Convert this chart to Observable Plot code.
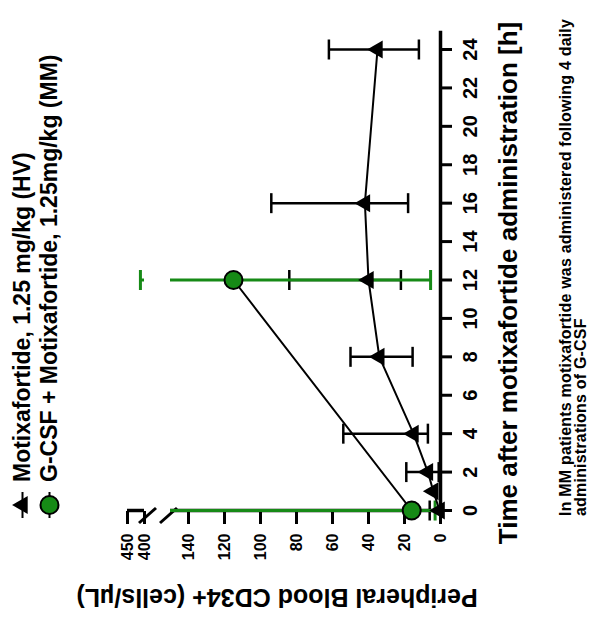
<!DOCTYPE html>
<html>
<head>
<meta charset="utf-8">
<script src="https://cdn.jsdelivr.net/npm/d3@7"></script>
<script src="https://cdn.jsdelivr.net/npm/@observablehq/plot@0.6"></script>
<style>
  html, body { margin: 0; padding: 0; background: #fff; }
  body { width: 595px; height: 620px; overflow: hidden; position: relative; font-family: "Liberation Sans", Arial, sans-serif; color: #000; }
  #rot { position: absolute; left: 0; top: 0; width: 620px; height: 595px; transform-origin: 0 0; transform: translate(0px, 620px) rotate(-90deg); }
  #rot > svg { position: absolute; left: 0; top: 0; }
  .abs { position: absolute; white-space: nowrap; }
  .leg { display: flex; align-items: center; height: 27px; font-size: 23px; font-weight: bold; }
  .leg svg { flex: none; }
  .leg span { margin-left: 9px; }
</style>
</head>
<body>
<div id="rot"></div>
<script>
// ---- data ----
const timeTicks = [0, 2, 4, 6, 8, 10, 12, 14, 16, 18, 20, 22, 24];
const valueTicks = [0, 20, 40, 60, 80, 100, 120, 140, 400, 450];
const valueBreak = [150, 400];   // broken value axis: gap between these two values
const valueTop = 450;
const timeAxisEnd = 25;

const seriesNames = ["Motixafortide, 1.25 mg/kg (HV)", "G-CSF + Motixafortide, 1.25mg/kg (MM)"];

// HV (triangles)
const hvTime  = [0,   1, 2, 4,  8,    12, 16, 24];
const hvMean  = [0.5, 4, 7, 15, 34,   40, 42, 35];
const hvLower = [0.5, 4, 1, 7,  15.5, 22, 18, 12];
const hvUpper = [6,   4, 19, 54, 50,  84, 94, 62];

// MM (circles)
const mmTime  = [0, 12];
const mmMean  = [16, 115];
const mmLower = [3, 5.5];
const mmUpper = [150, 412];
const mmUpperCap = [false, true];

const footnote = ["In MM patients motixafortide was administered following 4 daily", "administrations of G-CSF"];
const xTitle = "Time after motixafortide administration [h]";
const yTitle = "Peripheral Blood CD34+ (cells/µL)";

// ---- styles ----
const GREEN = "#168a16";
const triR = 6.7, circR = 9;

const hv = hvTime.map((t, i) => ({time: t, mean: hvMean[i], lower: hvLower[i], upper: hvUpper[i], cap: true}));
const mm = mmTime.map((t, i) => ({time: t, mean: mmMean[i], lower: mmLower[i], upper: mmUpper[i], cap: mmUpperCap[i]}));

// split error bars at the axis break
function segments(rows) {
  const out = [];
  for (const r of rows) {
    const lo = r.lower, hi = r.upper;
    if (lo < valueBreak[0]) out.push({time: r.time, y1: lo, y2: Math.min(hi, valueBreak[0])});
    if (hi > valueBreak[1]) out.push({time: r.time, y1: Math.max(lo, valueBreak[1]), y2: hi});
  }
  return out;
}
function caps(rows) {
  const out = [];
  for (const r of rows) {
    if (r.lower < r.mean) out.push({time: r.time, v: r.lower});
    if (r.upper > r.mean && r.cap) out.push({time: r.time, v: r.upper});
  }
  return out;
}
const capSymbol = { draw(ctx, size) { const r = Math.sqrt(size / Math.PI); ctx.moveTo(-r, 0); ctx.lineTo(r, 0); } };

const valueAxisSegments = [{y1: 0, y2: valueBreak[0]}, {y1: valueBreak[1], y2: valueTop}];

function breakMarks(index, scales) {
  const g = d3.create("svg:g").attr("stroke", "black").attr("stroke-width", 3);
  const x0 = scales.x(0);
  const c = [scales.y(valueBreak[1]) + 3, scales.y(valueBreak[0]) - 2];
  for (const cy of c) {
    g.append("line").attr("x1", x0 - 12).attr("y1", cy - 8).attr("x2", x0 + 3).attr("y2", cy + 9);
  }
  return g.node();
}

const W = 620, H = 595;
const plot = Plot.plot({
  width: W, height: H,
  marginLeft: 109, marginRight: 50, marginTop: 127, marginBottom: 155,
  style: {fontFamily: "'Liberation Sans', Arial, sans-serif", color: "black", background: "transparent", overflow: "visible"},
  x: {type: "linear", domain: [0, 24]},
  y: {type: "linear", domain: [0, valueBreak[0], valueBreak[1], valueTop], range: [440, 170, 144, 127]},
  marks: [
    Plot.axisX({ticks: timeTicks, tickSize: 12, tickPadding: 10, strokeWidth: 3, fontSize: 20, fontWeight: "bold", label: null, tickFormat: d => String(d)}),
    Plot.axisY({ticks: valueTicks, tickSize: 13, tickPadding: 10, strokeWidth: 3, fontSize: 16, fontWeight: "bold", label: null, tickFormat: d => String(d)}),
    Plot.ruleY([0], {x1: 0, x2: timeAxisEnd, strokeWidth: 3.5}),
    Plot.ruleX(valueAxisSegments, {x: 0, y1: "y1", y2: "y2", strokeWidth: 3.5}),
    breakMarks,
    // HV error bars
    Plot.ruleX(segments(hv), {x: "time", y1: "y1", y2: "y2", stroke: "black", strokeWidth: 2.5}),
    Plot.dot(caps(hv), {x: "time", y: "v", symbol: capSymbol, r: 10, fill: "none", stroke: "black", strokeWidth: 2.5}),
    // MM error bars
    Plot.ruleX(segments(mm), {x: "time", y1: "y1", y2: "y2", stroke: GREEN, strokeWidth: 3}),
    Plot.dot(caps(mm), {x: "time", y: "v", symbol: capSymbol, r: 10, fill: "none", stroke: GREEN, strokeWidth: 3}),
    // lines
    Plot.line(hv, {x: "time", y: "mean", stroke: "black", strokeWidth: 2}),
    Plot.line(mm, {x: "time", y: "mean", stroke: "black", strokeWidth: 2}),
    // markers
    Plot.dot(hv, {x: "time", y: "mean", symbol: "triangle", r: triR, fill: "black", stroke: "none"}),
    Plot.dot(mm, {x: "time", y: "mean", r: circR, fill: GREEN, stroke: "black", strokeWidth: 2})
  ]
});

const rot = document.getElementById("rot");
rot.appendChild(plot);

// legend
function legendRow(i, top) {
  const row = document.createElement("div");
  row.className = "abs leg";
  row.style.left = "101px";
  row.style.top = top + "px";
  const svg = d3.create("svg").attr("width", 28).attr("height", 27);
  const g = svg.append("g").attr("transform", "translate(14,13.5)");
  g.append("line").attr("x1", -13).attr("x2", 13).attr("stroke", "black").attr("stroke-width", 2);
  if (i === 0) {
    g.append("path").attr("d", d3.symbol(d3.symbolTriangle, Math.PI * triR * triR)()).attr("fill", "black");
  } else {
    g.append("circle").attr("r", circR).attr("fill", GREEN).attr("stroke", "black").attr("stroke-width", 2);
  }
  row.appendChild(svg.node());
  const s = document.createElement("span");
  s.textContent = seriesNames[i];
  row.appendChild(s);
  rot.appendChild(row);
}
legendRow(0, 9);
legendRow(1, 36);

// x title
const xt = document.createElement("div");
xt.className = "abs";
Object.assign(xt.style, {left: (337 - 310) + "px", width: "620px", top: "493px", textAlign: "center", fontSize: "26px", fontWeight: "bold", lineHeight: "30px"});
xt.textContent = xTitle;
rot.appendChild(xt);

// y title
const yt = document.createElement("div");
yt.className = "abs";
Object.assign(yt.style, {left: (22 - 260) + "px", width: "520px", top: (277 - 15) + "px", height: "30px", lineHeight: "30px", textAlign: "center", fontSize: "25px", fontWeight: "bold", transform: "rotate(-90deg)", transformOrigin: "50% 50%"});
yt.textContent = yTitle;
rot.appendChild(yt);

// footnote
const fn = document.createElement("div");
fn.className = "abs";
Object.assign(fn.style, {left: "104px", top: "558px", fontSize: "16px", fontWeight: "bold", letterSpacing: "0.2px", lineHeight: "15px"});
fn.innerHTML = footnote.map(t => `<div>${t}</div>`).join("");
rot.appendChild(fn);
</script>
</body>
</html>
